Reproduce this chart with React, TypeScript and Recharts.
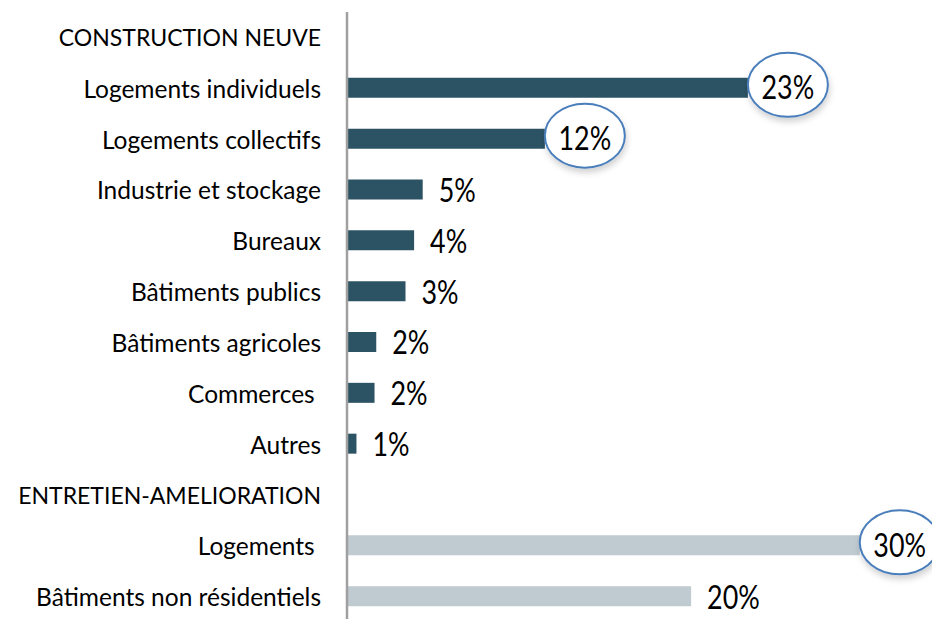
import { BarChart, Bar, XAxis, YAxis, Cell, LabelList } from 'recharts';

const categories = [
  'CONSTRUCTION NEUVE',
  'Logements individuels',
  'Logements collectifs',
  'Industrie et stockage',
  'Bureaux',
  'Bâtiments publics',
  'Bâtiments agricoles',
  'Commerces ',
  'Autres',
  'ENTRETIEN-AMELIORATION',
  'Logements ',
  'Bâtiments non résidentiels',
];
const shares = [null, 23.3, 11.5, 4.4, 3.9, 3.4, 1.7, 1.6, 0.55, null, 29.8, 20.0];
const shareLabels = ['', '23%', '12%', '5%', '4%', '3%', '2%', '2%', '1%', '', '30%', '20%'];
const segments = ['neuf', 'neuf', 'neuf', 'neuf', 'neuf', 'neuf', 'neuf', 'neuf', 'neuf', 'ea', 'ea', 'ea'];
const circledLabels = ['23%', '12%', '30%'];
const headers = ['CONSTRUCTION NEUVE', 'ENTRETIEN-AMELIORATION'];

const COLORS: Record<string, string> = {
  neuf: '#2c5364',
  ea: '#bfcad1',
};

const rows = categories.map((name, i) => ({
  name,
  value: shares[i],
  label: shareLabels[i],
  segment: segments[i],
}));

const FONT = 'Lato, "Liberation Sans", sans-serif';

function CategoryTick(props: any) {
  const { x, y, payload } = props;
  const isHeader = headers.includes(payload.value);
  return (
    <text
      x={x - 18}
      y={y}
      textAnchor="end"
      dominantBaseline="central"
      fontFamily={FONT}
      fontSize={isHeader ? 23 : 24.5}
      fill="#000"
      style={{ whiteSpace: 'pre' }}
    >
      {payload.value}
    </text>
  );
}

function ValueText({ x, y, anchor, value }: any) {
  // narrowed glyphs, closer to the original condensed face
  return (
    <text
      transform={`translate(${x},${y}) scale(0.84,1)`}
      x={0}
      y={0}
      textAnchor={anchor}
      dominantBaseline="central"
      fontFamily={FONT}
      fontSize={32}
      fill="#000"
    >
      {value}
    </text>
  );
}

function ShareLabel(props: any) {
  const { x, y, width, height, value, index } = props;
  if (!value || x == null) return null;
  const end = x + width;
  const cy = y + height / 2;
  if (circledLabels.includes(value)) {
    const cx = end + 40;
    return (
      <g>
        <defs>
          <filter id={`shadow-${index}`} x="-30%" y="-30%" width="160%" height="170%">
            <feDropShadow dx="1" dy="4" stdDeviation="3" floodColor="#000" floodOpacity="0.18" />
          </filter>
        </defs>
        <ellipse
          cx={cx}
          cy={cy - 3}
          rx={40}
          ry={32}
          fill="#fff"
          stroke="#4a7ebb"
          strokeWidth={2}
          filter={`url(#shadow-${index})`}
        />
        <ValueText x={cx} y={cy - 1} anchor="middle" value={value} />
      </g>
    );
  }
  return <ValueText x={end + 16} y={cy} anchor="start" value={value} />;
}

export default function App() {
  return (
    <div style={{ position: 'absolute', left: 0, top: 0, width: 932, height: 619, overflow: 'hidden', background: '#fff' }}>
      <BarChart
        width={932}
        height={622}
        data={rows}
        layout="vertical"
        margin={{ top: 12, right: 0, bottom: 0, left: 0 }}
      >
        <XAxis type="number" domain={[0, 34]} hide />
        <YAxis
          type="category"
          dataKey="name"
          width={347}
          tickLine={false}
          axisLine={{ stroke: '#a0a0a0', strokeWidth: 2.5 }}
          tick={<CategoryTick />}
          interval={0}
        />
        <Bar dataKey="value" barSize={20} isAnimationActive={false}>
          {rows.map((r, i) => (
            <Cell key={`cell-${i}`} fill={COLORS[r.segment]} />
          ))}
          <LabelList dataKey="label" content={<ShareLabel />} />
        </Bar>
      </BarChart>
    </div>
  );
}
